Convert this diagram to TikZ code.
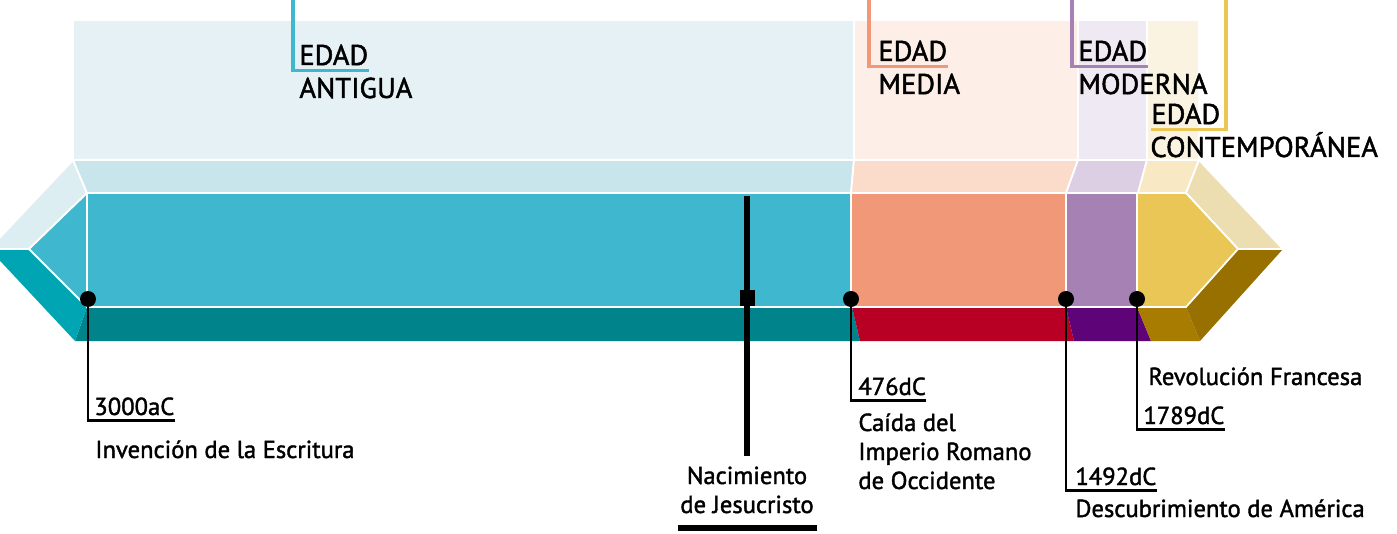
\documentclass[tikz,border=0pt]{standalone}
\usepackage{fontspec}
\setmainfont{PT Sans}[FakeBold=1.6]
\usetikzlibrary{calc}
\definecolor{antFront}{HTML}{3FB8CF}
\definecolor{antStrip}{HTML}{C7E5EB}
\definecolor{antPanel}{HTML}{E6F1F6}
\definecolor{antBottom}{HTML}{00838B}
\definecolor{bevLight}{HTML}{DCEEF1}
\definecolor{bevDark}{HTML}{00A5B3}
\definecolor{medFront}{HTML}{F19878}
\definecolor{medStrip}{HTML}{FBDBC9}
\definecolor{medPanel}{HTML}{FDEEE8}
\definecolor{medBottom}{HTML}{B80024}
\definecolor{modFront}{HTML}{A682B4}
\definecolor{modStrip}{HTML}{DCCFE4}
\definecolor{modPanel}{HTML}{EEE9F2}
\definecolor{modBottom}{HTML}{5E0378}
\definecolor{conFront}{HTML}{E9C655}
\definecolor{conStrip}{HTML}{F8E8C3}
\definecolor{conPanel}{HTML}{FAF3E2}
\definecolor{conBottom}{HTML}{A87C00}
\definecolor{tipLight}{HTML}{EDDEB2}
\definecolor{tipDark}{HTML}{977000}

\begin{document}
\begin{tikzpicture}[x=0.5pt, y=-0.5pt,
    face/.style={draw=white, line width=0.9pt, line join=round},
    evdot/.style={circle, fill=black, inner sep=0pt, minimum size=8pt},
    lead/.style={line width=1.3pt},
    eraline/.style={line width=1.7pt},
    jline/.style={line width=3.3pt},
    yr/.style={anchor=base west, inner xsep=0pt, inner ysep=2.5pt, font=\fontsize{12.3}{14.5}\selectfont},
    note/.style={anchor=base west, inner sep=0pt, align=left, font=\fontsize{12.3}{14.5}\selectfont},
    eralbl/.style={anchor=base west, inner xsep=0pt, inner ysep=2.5pt, font=\fontsize{14.3}{16.5}\selectfont}]
    \useasboundingbox (0,0) rectangle (1397,534);

    % Background panels
    \path[face, fill=antPanel] (73,20) rectangle (854,160);
    \path[face, fill=medPanel] (854,20) rectangle (1078,160);
    \path[face, fill=modPanel] (1078,20) rectangle (1147,160);
    \path[face, fill=conPanel] (1147,20) rectangle (1199,160);

    % Bottom faces
    \fill[antBottom] (87,307) -- (852,307) -- (860,341) -- (75,341) -- cycle;
    \fill[medBottom] (852,307) -- (1066,307) -- (1074,341) -- (860,341) -- cycle;
    \fill[modBottom] (1066,307) -- (1137,307) -- (1151,341) -- (1074,341) -- cycle;
    \fill[conBottom] (1137,307) -- (1186,307) -- (1200,341) -- (1151,341) -- cycle;
    \fill[bevDark] (-11,249) -- (29,249) -- (87,307) -- (75,341) -- cycle;
    \fill[tipDark] (1238,249) -- (1283,249) -- (1200,341) -- (1186,307) -- cycle;

    % Top faces
    \path[face, fill=bevLight] (73,160) -- (87,193) -- (29,249) -- (-11,249) -- cycle;
    \path[face, fill=antStrip] (73,160) -- (854,160) -- (851,193) -- (87,193) -- cycle;
    \path[face, fill=medStrip] (854,160) -- (1078,160) -- (1066,193) -- (851,193) -- cycle;
    \path[face, fill=modStrip] (1078,160) -- (1147,160) -- (1138,193) -- (1066,193) -- cycle;
    \path[face, fill=conStrip] (1147,160) -- (1199,160) -- (1186,193) -- (1138,193) -- cycle;
    \path[face, fill=tipLight] (1199,160) -- (1186,193) -- (1238,249) -- (1283,249) -- cycle;

    % Front faces
    \path[face, fill=antFront] (87,193) -- (29,249) -- (87,307) -- cycle;
    \path[face, fill=antFront] (87,193) rectangle (851,307);
    \path[face, fill=medFront] (851,193) rectangle (1066,307);
    \path[face, fill=modFront] (1066,193) rectangle (1137,307);
    \path[face, fill=conFront] (1137,193) -- (1186,193) -- (1238,249) -- (1186,307) -- (1137,307) -- cycle;

    % Eras
    \coordinate (tAnt) at (293,0);
    \coordinate (tMed) at (869,0);
    \coordinate (tMod) at (1072,0);
    \coordinate (tCon) at (1226,0);
    \node[eralbl] (edadAnt) at (299,65) {EDAD};
    \node[eralbl] (antigua) at (299,98) {ANTIGUA};
    \node[eralbl] (edadMed) at (878,61) {EDAD};
    \node[eralbl] (media) at (878,94) {MEDIA};
    \node[eralbl] (edadMod) at (1078,61) {EDAD};
    \node[eralbl] (moderna) at (1078,94) {MODERNA};
    \node[eralbl] (edadCon) at (1151,124) {EDAD};
    \node[eralbl] (contemp) at (1150,157) {CONTEMPORÁNEA};
    \draw[eraline, antFront] (tAnt) |- (edadAnt.south east);
    \draw[eraline, medFront] (tMed) |- (edadMed.south east);
    \draw[eraline, modFront] (tMod) |- (edadMod.south east);
    \draw[eraline, conFront] (tCon) |- (edadCon.south west);

    % Events
    \node[evdot] (d3000) at (88,299) {};
    \node[evdot] (d476) at (851,299) {};
    \node[evdot] (d1492) at (1066,299) {};
    \node[evdot] (d1789) at (1137,299) {};
    \node[yr] (y3000) at (94,415) {3000aC};
    \node[yr] (y476) at (858,395) {476dC};
    \node[yr] (y1492) at (1075,485) {1492dC};
    \node[yr] (y1789) at (1143,424) {1789dC};
    \draw[lead] (d3000.center) |- (y3000.south east);
    \draw[lead] (d476.center) |- (y476.south east);
    \draw[lead] (d1492.center) |- (y1492.south east);
    \draw[lead] (d1789.center) |- (y1789.south east);
    \node[note] (escritura) at (95,458) {Invención de la Escritura};
    \node[note] (roma) at (858,489) {Caída del\\Imperio Romano\\de Occidente};
    \node[note] (america) at (1075,517) {Descubrimiento de América};
    \node[note] (revolucion) at (1148,385) {Revolución Francesa};

    % Nacimiento de Jesucristo
    \coordinate (jTop) at (747,196);
    \coordinate (jBot) at (747,456);
    \draw[jline] (jTop) -- (jBot);
    \node[fill=black, inner sep=0pt, minimum size=7.5pt] (jesus) at (747,298) {};
    \node[note, anchor=base] (nac) at (747,484) {Nacimiento};
    \node[note, anchor=base] (jesucristo) at (747,513) {de Jesucristo};
    \draw[jline] (678,528) -- (817,528);
\end{tikzpicture}
\end{document}
